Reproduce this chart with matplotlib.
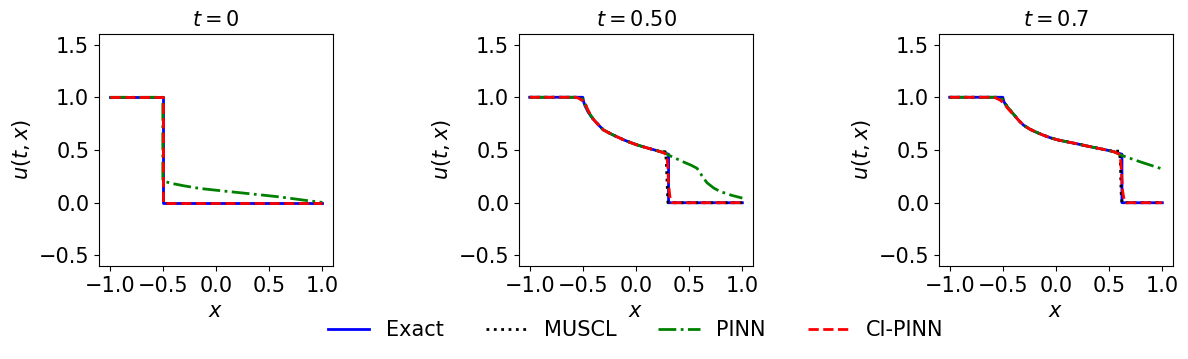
import matplotlib
matplotlib.use("Agg")
import matplotlib.pyplot as plt

titles = ["$t = 0$", "$t = 0.50$", "$t = 0.7$"]
x_ticks = [-1.0, -0.5, 0.0, 0.5, 1.0]
y_ticks = [-0.5, 0.0, 0.5, 1.0, 1.5]

# ---- t = 0 ----
exact0_x = [-1.0, -0.5, -0.5, 1.0]
exact0_u = [1.0, 1.0, 0.0, 0.0]
muscl0_x = [-1.0, -0.5, -0.5, 1.0]
muscl0_u = [1.0, 1.0, 0.0, 0.0]
pinn0_x = [-1.0, -0.5, -0.5, -0.48, -0.4, -0.3, -0.15, 0.1, 0.32, 0.6, 0.86, 1.0]
pinn0_u = [1.0, 1.0, 0.22, 0.2, 0.18, 0.16, 0.135, 0.108, 0.085, 0.055, 0.02, 0.003]
ci0_x = [-1.0, -0.5, -0.5, 1.0]
ci0_u = [1.0, 1.0, 0.0, 0.0]

# ---- t = 0.5 ----
exact1_x = [-1.0, -0.5, -0.495, -0.49, -0.48, -0.47, -0.45, -0.43, -0.4, -0.35,
            -0.306, -0.25, -0.2, -0.15, -0.118, -0.05, 0.008, 0.05, 0.1, 0.15,
            0.197, 0.24, 0.275, 0.306, 0.306, 1.0]
exact1_u = [1.0, 1.0, 0.97, 0.95, 0.92, 0.9, 0.86, 0.83, 0.79, 0.735,
            0.69, 0.66, 0.635, 0.612, 0.597, 0.57, 0.549, 0.536, 0.521, 0.507,
            0.494, 0.481, 0.47, 0.46, 0.0, 0.0]
muscl1_x = [-1.0, -0.55, -0.52, -0.5, -0.48, -0.45, -0.43, -0.4, -0.35,
            -0.306, -0.25, -0.2, -0.15, -0.118, -0.05, 0.008, 0.05, 0.1, 0.15,
            0.197, 0.24, 0.275, 0.285, 0.292, 0.298, 0.30, 1.0]
muscl1_u = [1.0, 1.0, 0.995, 0.98, 0.94, 0.87, 0.835, 0.79, 0.735,
            0.69, 0.66, 0.635, 0.612, 0.597, 0.57, 0.549, 0.536, 0.521, 0.507,
            0.494, 0.484, 0.484, 0.40, 0.2, 0.05, 0.0, 0.0]
pinn1_x = [-1.0, -0.55, -0.52, -0.5, -0.48, -0.45, -0.43, -0.4, -0.35,
           -0.306, -0.25, -0.2, -0.15, -0.118, -0.05, 0.008, 0.05, 0.1, 0.15,
           0.197, 0.24, 0.275, 0.33, 0.385, 0.45, 0.52, 0.573, 0.6, 0.62, 0.667,
           0.73, 0.79, 0.9, 1.0]
pinn1_u = [1.0, 1.0, 0.995, 0.98, 0.93, 0.87, 0.835, 0.79, 0.735,
           0.69, 0.66, 0.635, 0.612, 0.597, 0.57, 0.549, 0.536, 0.521, 0.507,
           0.494, 0.481, 0.47, 0.44, 0.415, 0.385, 0.355, 0.327, 0.29, 0.255, 0.19,
           0.14, 0.107, 0.07, 0.044]
ci1_x = [-1.0, -0.573, -0.55, -0.53, -0.5, -0.478, -0.45, -0.43, -0.4, -0.35,
         -0.306, -0.25, -0.2, -0.15, -0.118, -0.05, 0.008, 0.05, 0.1, 0.15,
         0.197, 0.24, 0.27, 0.29, 0.298, 0.305, 0.313, 0.322, 0.34, 1.0]
ci1_u = [1.0, 1.0, 0.995, 0.985, 0.965, 0.94, 0.875, 0.835, 0.79, 0.735,
         0.69, 0.66, 0.635, 0.612, 0.597, 0.57, 0.549, 0.536, 0.521, 0.507,
         0.494, 0.481, 0.468, 0.45, 0.35, 0.2, 0.11, 0.03, 0.0, 0.0]

# ---- t = 0.7 ----
exact2_x = [-1.0, -0.5, -0.495, -0.49, -0.48, -0.47, -0.45, -0.431, -0.4, -0.35,
            -0.306, -0.25, -0.2, -0.118, -0.05, 0.02, 0.102, 0.2, 0.28, 0.353,
            0.45, 0.54, 0.62, 0.62, 1.0]
exact2_u = [1.0, 1.0, 0.975, 0.96, 0.94, 0.925, 0.897, 0.877, 0.84, 0.78,
            0.736, 0.7, 0.675, 0.64, 0.615, 0.595, 0.578, 0.558, 0.54, 0.525,
            0.505, 0.485, 0.46, 0.0, 0.0]
muscl2_x = [-1.0, -0.56, -0.52, -0.5, -0.48, -0.45, -0.431, -0.4, -0.35,
            -0.306, -0.25, -0.2, -0.118, -0.05, 0.02, 0.102, 0.2, 0.28, 0.353,
            0.45, 0.54, 0.595, 0.605, 0.612, 0.62, 1.0]
muscl2_u = [1.0, 1.0, 0.995, 0.98, 0.945, 0.9, 0.877, 0.84, 0.78,
            0.736, 0.7, 0.675, 0.64, 0.615, 0.595, 0.578, 0.558, 0.54, 0.525,
            0.505, 0.487, 0.49, 0.4, 0.1, 0.0, 0.0]
pinn2_x = [-1.0, -0.55, -0.52, -0.5, -0.48, -0.45, -0.431, -0.4, -0.35,
           -0.306, -0.25, -0.2, -0.118, -0.05, 0.02, 0.102, 0.2, 0.28, 0.353,
           0.45, 0.54, 0.62, 0.8, 1.0]
pinn2_u = [1.0, 1.0, 0.995, 0.975, 0.94, 0.9, 0.877, 0.84, 0.78,
           0.736, 0.7, 0.675, 0.64, 0.615, 0.595, 0.578, 0.558, 0.54, 0.525,
           0.505, 0.485, 0.448, 0.385, 0.32]
ci2_x = [-1.0, -0.6, -0.57, -0.55, -0.52, -0.5, -0.47, -0.45, -0.43, -0.4, -0.35,
         -0.306, -0.25, -0.2, -0.118, -0.05, 0.02, 0.102, 0.2, 0.28, 0.353,
         0.45, 0.54, 0.59, 0.605, 0.615, 0.625, 0.64, 0.66, 1.0]
ci2_u = [1.0, 1.0, 0.995, 0.985, 0.97, 0.95, 0.915, 0.89, 0.867, 0.835, 0.78,
         0.736, 0.7, 0.675, 0.64, 0.615, 0.595, 0.578, 0.558, 0.54, 0.525,
         0.505, 0.485, 0.465, 0.43, 0.3, 0.12, 0.03, 0.0, 0.0]

panels = [
    (exact0_x, exact0_u, muscl0_x, muscl0_u, pinn0_x, pinn0_u, ci0_x, ci0_u),
    (exact1_x, exact1_u, muscl1_x, muscl1_u, pinn1_x, pinn1_u, ci1_x, ci1_u),
    (exact2_x, exact2_u, muscl2_x, muscl2_u, pinn2_x, pinn2_u, ci2_x, ci2_u),
]

plt.rcParams["font.family"] = ["DejaVu Sans"]
plt.rcParams["font.size"] = 15

W, H = 1188, 359
fig = plt.figure(figsize=(W / 100, H / 100), dpi=100)
lefts = [99, 519, 939]
ax_w, ax_top, ax_bot = 234, 34, 266

handles = None
for i, (ex, eu, mx, mu, px, pu, cx, cu) in enumerate(panels):
    ax = fig.add_axes([lefts[i] / W, 1 - ax_bot / H, ax_w / W, (ax_bot - ax_top) / H])
    h1, = ax.plot(ex, eu, color="blue", lw=2, ls="-", label="Exact")
    h2, = ax.plot(mx, mu, color="black", lw=2, ls=":", label="MUSCL")
    h3, = ax.plot(px, pu, color="green", lw=2, ls="-.", label="PINN")
    h4, = ax.plot(cx, cu, color="red", lw=2, ls="--", label="CI-PINN")
    handles = [h1, h2, h3, h4]
    ax.set_xlim(-1.1, 1.1)
    ax.set_ylim(-0.6, 1.6)
    ax.set_xticks(x_ticks)
    ax.set_yticks(y_ticks)
    ax.set_title(titles[i], fontsize=15)
    ax.set_xlabel("$x$", fontsize=15)
    ax.set_ylabel("$u(t,x)$", fontsize=15)
    ax.tick_params(labelsize=15)

fig.legend(handles=handles, labels=["Exact", "MUSCL", "PINN", "CI-PINN"],
           loc="center", bbox_to_anchor=(0.535, 1 - 330 / H), ncol=4,
           frameon=False, fontsize=15)

fig.savefig("out.png", dpi=100)
